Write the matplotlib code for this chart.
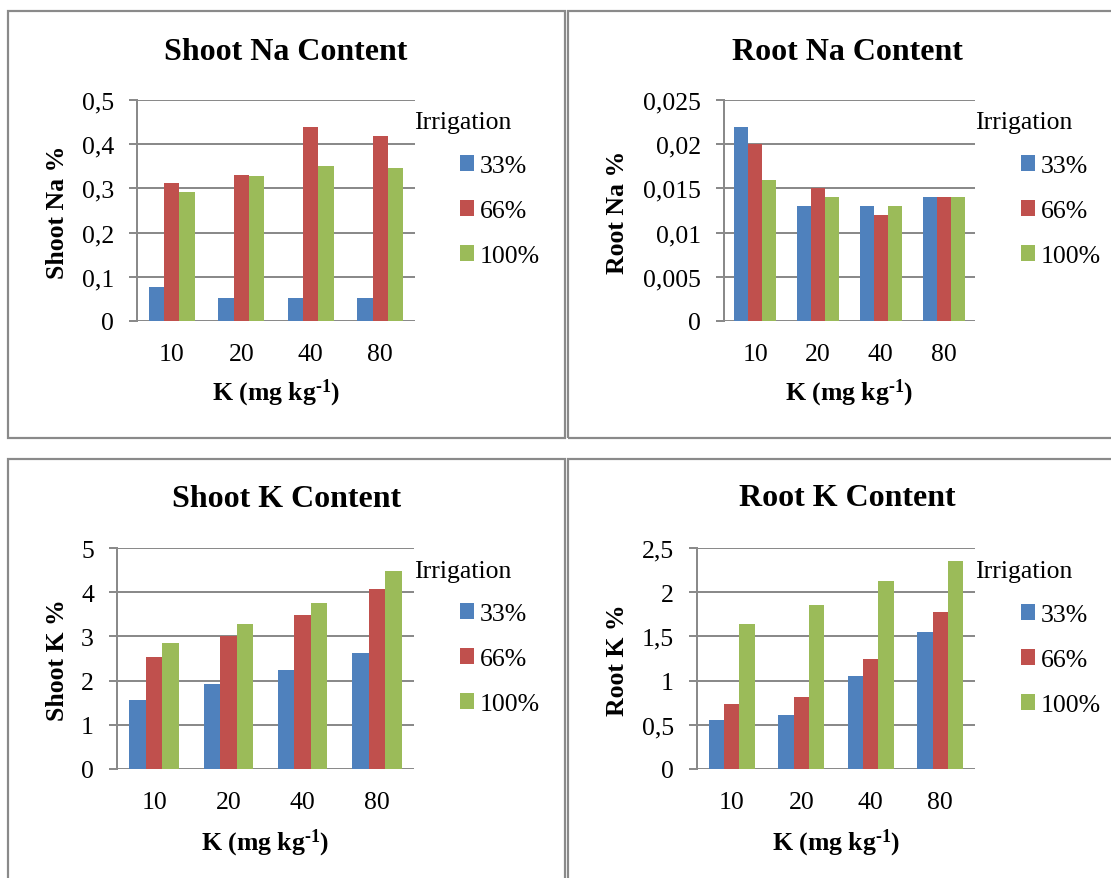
import matplotlib
matplotlib.use("Agg")
import matplotlib.pyplot as plt
import numpy as np
from matplotlib.patches import Rectangle
from matplotlib.ticker import FuncFormatter, MultipleLocator

plt.rcParams['font.family'] = ['Liberation Serif', 'DejaVu Serif']
plt.rcParams['mathtext.fontset'] = 'custom'
plt.rcParams['mathtext.rm'] = 'Liberation Serif:bold'
plt.rcParams['mathtext.bf'] = 'Liberation Serif:bold'
plt.rcParams['mathtext.default'] = 'bf'

# data
doses = ["10", "20", "40", "80"]
irrigation = ["33%", "66%", "100%"]
colors = ["#4F81BD", "#C0504D", "#9BBB59"]

shoot_na = [[0.077, 0.051, 0.052, 0.052],
            [0.312, 0.331, 0.439, 0.418],
            [0.291, 0.329, 0.350, 0.346]]
root_na = [[0.022, 0.013, 0.013, 0.014],
           [0.020, 0.015, 0.012, 0.014],
           [0.016, 0.014, 0.013, 0.014]]
shoot_k = [[1.55, 1.92, 2.24, 2.63],
           [2.54, 3.02, 3.49, 4.07],
           [2.85, 3.27, 3.76, 4.47]]
root_k = [[0.55, 0.61, 1.05, 1.55],
          [0.73, 0.81, 1.25, 1.78],
          [1.64, 1.85, 2.13, 2.35]]

W, H = 1111, 879
GRAY = "#8a8a8a"
PX = 72.0 / 100  # points per pixel at dpi 100
TICK_FS = 18.5
LAB_FS = 18.5
TITLE_FS = 23

fig = plt.figure(figsize=(W / 100, H / 100), dpi=100)


def fx(p):
    return p / W


def fy(p):
    return 1 - p / H


def comma(v, pos):
    return ("%g" % round(v, 6)).replace(".", ",")


# panel boxes
for (x0, y0, x1, y1) in [(8, 12, 565, 439), (568, 12, 1130, 439),
                         (8, 460, 565, 900), (568, 460, 1130, 900)]:
    fig.patches.append(Rectangle((fx(x0), fy(y1)), fx(x1 - x0), (y1 - y0) / H,
                                 transform=fig.transFigure, fill=False,
                                 edgecolor=GRAY, linewidth=2.2 * PX))

panels = [
    dict(data=shoot_na, title="Shoot Na Content", ylabel="Shoot Na %",
         ymax=0.5, step=0.1, rect=(137, 101, 415, 322),
         title_xy=(286, 52), ylab_xy=(58, 212), xlab_xy=(276, 393),
         leg_x=414, leg_ys=(123, 212)),
    dict(data=root_na, title="Root Na Content", ylabel="Root Na %",
         ymax=0.025, step=0.005, rect=(724, 101, 975, 322),
         title_xy=(847, 52), ylab_xy=(618, 212), xlab_xy=(849, 393),
         leg_x=975, leg_ys=(123, 212)),
    dict(data=shoot_k, title="Shoot K Content", ylabel="Shoot K %",
         ymax=5, step=1, rect=(117, 549, 414, 770),
         title_xy=(287, 500), ylab_xy=(58, 660), xlab_xy=(265, 843),
         leg_x=414, leg_ys=(572, 660)),
    dict(data=root_k, title="Root K Content", ylabel="Root K %",
         ymax=2.5, step=0.5, rect=(697, 549, 975, 770),
         title_xy=(847, 499), ylab_xy=(618, 660), xlab_xy=(836, 843),
         leg_x=975, leg_ys=(572, 661)),
]

x = np.arange(len(doses))
bw = 1 / 4.5

for p in panels:
    l, t, r, b = p["rect"]
    ax = fig.add_axes([fx(l), fy(b), (r - l) / W, (b - t) / H])
    for i, (vals, c, lab) in enumerate(zip(p["data"], colors, irrigation)):
        ax.bar(x + (i - 1) * bw, vals, bw, color=c, label=lab, zorder=3)
    ax.set_xlim(-0.5, len(doses) - 0.5)
    ax.set_ylim(0, p["ymax"])
    ax.yaxis.set_major_locator(MultipleLocator(p["step"]))
    ax.yaxis.set_major_formatter(FuncFormatter(comma))
    ax.set_xticks(x)
    ax.set_xticklabels(doses)
    for s in ["top", "right", "bottom"]:
        ax.spines[s].set_visible(False)
    ax.spines["left"].set_color(GRAY)
    ax.spines["left"].set_linewidth(2 * PX)
    ax.grid(axis="y", color=GRAY, linewidth=2 * PX, zorder=0)
    ax.set_axisbelow(True)
    ax.tick_params(axis="y", length=8 * PX, width=2 * PX, color=GRAY,
                   labelsize=TICK_FS, pad=15 * PX)
    ax.tick_params(axis="x", length=0, labelsize=TICK_FS, pad=16)
    ax.patch.set_alpha(0)

    fig.text(fx(p["title_xy"][0]), fy(p["title_xy"][1]), p["title"],
             ha="center", va="center", fontsize=TITLE_FS, fontweight="bold")
    fig.text(fx(p["ylab_xy"][0]), fy(p["ylab_xy"][1]), p["ylabel"],
             ha="center", va="center", rotation=90, fontsize=LAB_FS,
             fontweight="bold")
    fig.text(fx(p["xlab_xy"][0]), fy(p["xlab_xy"][1]), r"K (mg kg$^{\text{-1}}$)",
             ha="center", va="center", fontsize=LAB_FS, fontweight="bold")

    fig.text(fx(p["leg_x"]), fy(p["leg_ys"][0]), "Irrigation",
             ha="left", va="center", fontsize=TICK_FS)
    ax.legend(loc="center left",
              bbox_to_anchor=(fx(p["leg_x"] + 46), fy(p["leg_ys"][1])),
              bbox_transform=fig.transFigure, frameon=False, fontsize=TICK_FS,
              handlelength=0.53, handleheight=0.55, handletextpad=0.25,
              labelspacing=0.9, borderpad=0, borderaxespad=0)

fig.savefig("out.png", dpi=100)
